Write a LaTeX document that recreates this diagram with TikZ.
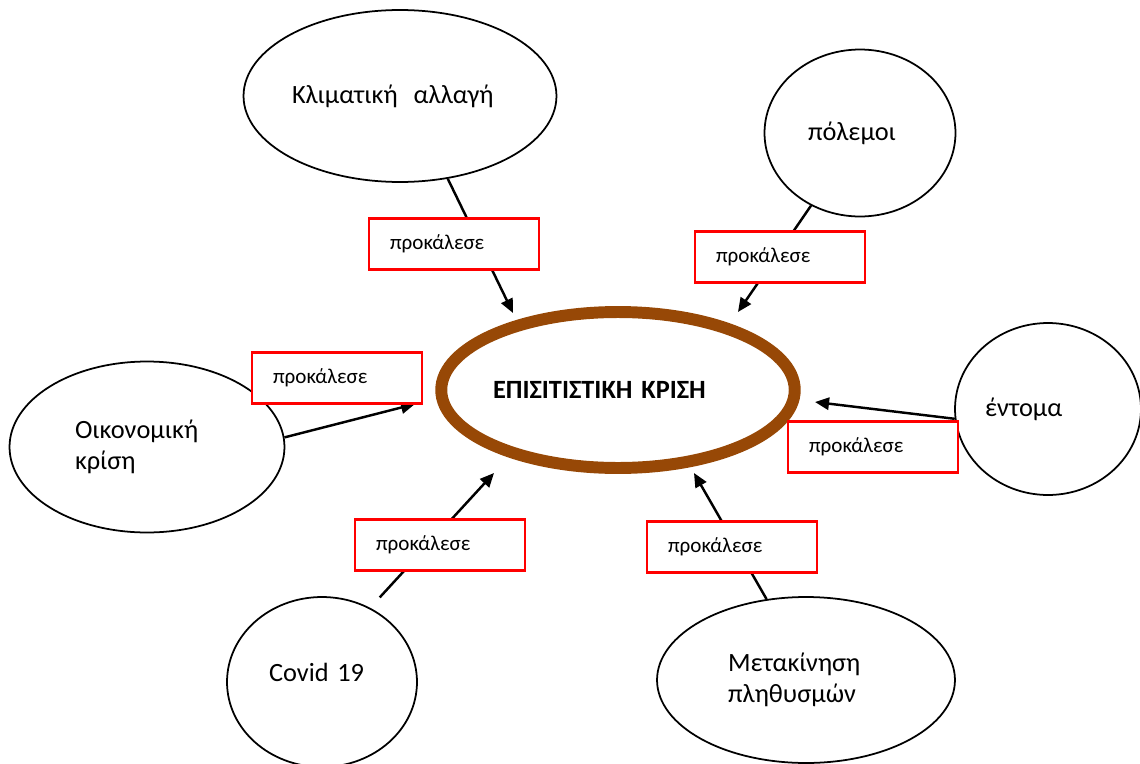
\documentclass[tikz,border=0pt]{standalone}
\usepackage{fontspec}
\setmainfont{Carlito}
\usetikzlibrary{shapes.geometric,arrows.meta}

\definecolor{crisisbrown}{RGB}{151,72,6}

\begin{document}
\begin{tikzpicture}[x=0.02cm,y=-0.02cm,
    cause/.style={ellipse,draw,line width=1pt,inner sep=0pt,align=left,font=\fontsize{15}{17.5}\selectfont},
    crisis/.style={ellipse,draw=crisisbrown,line width=6.8pt,inner sep=0pt,align=left,font=\bfseries\fontsize{15}{18}\selectfont},
    verb/.style={draw=red,line width=1.5pt,fill=white,minimum width=3.4cm,minimum height=1.02cm,inner xsep=0.42cm,inner ysep=0pt,text width=2.56cm,align=left,font=\fontsize{12}{14}\selectfont},
    causes/.style={-{Triangle[length=8pt,width=7pt]},line width=1.4pt}]

\useasboundingbox (0,0) rectangle (1140,764);

% the crisis and its causes
    \node[crisis,minimum width=6.72cm,minimum height=3.12cm,text width=5cm] (crisis) at (618,390) {ΕΠΙΣΙΤΙΣΤΙΚΗ ΚΡΙΣΗ};

    \node[cause,minimum width=6.26cm,minimum height=3.44cm,text width=4.32cm] (klima) at (400,96) {Κλιματική\hspace{0.6em}αλλαγή};
    \node[cause,minimum width=3.82cm,minimum height=3.34cm,text width=2.08cm] (polemoi) at (860,133) {πόλεμοι};
    \node[cause,minimum width=3.72cm,minimum height=3.44cm,text width=2.52cm] (entoma) at (1048,409) {έντομα};
    \node[cause,minimum width=5.5cm,minimum height=3.42cm,text width=2.88cm] (oikonomia) at (147,447) {Οικονομική\\κρίση};
    \node[cause,minimum width=3.8cm,minimum height=3.4cm,text width=2.12cm,text depth=11pt] (covid) at (322,682) {Covid 19};
    \node[cause,minimum width=5.96cm,minimum height=3.32cm,text width=3.12cm] (metakinisi) at (806,680) {Μετακίνηση\\πληθυσμών};

\coordinate (klimaend) at (513,313);
\coordinate (polemoiend) at (738,312);
\coordinate (oikonomiaend) at (415,404);
\coordinate (entomaend) at (815,402);
\coordinate (covidend) at (494,473);
\coordinate (metakinisiend) at (694,473);

\draw [causes] (klima.-60) -- (klimaend);
\draw [causes] (polemoi.-124) -- (polemoiend);
\draw [causes] (oikonomia.4) -- (oikonomiaend);
\draw [causes] (entoma.186) -- (entomaend);
\draw [causes,shorten <=8pt] (covid.57) -- (covidend);
\draw [causes] (metakinisi.116) -- (metakinisiend);

% red labels over the arrows
    \node[verb] (klimaverb) at (454,244) {προκάλεσε};
    \node[verb] (polemoiverb) at (780,257) {προκάλεσε};
    \node[verb] (oikonomiaverb) at (337,378) {προκάλεσε};
    \node[verb] (entomaverb) at (873,447) {προκάλεσε};
    \node[verb] (covidverb) at (440,545) {προκάλεσε};
    \node[verb] (metakinisiverb) at (732,547) {προκάλεσε};
\end{tikzpicture}
\end{document}
